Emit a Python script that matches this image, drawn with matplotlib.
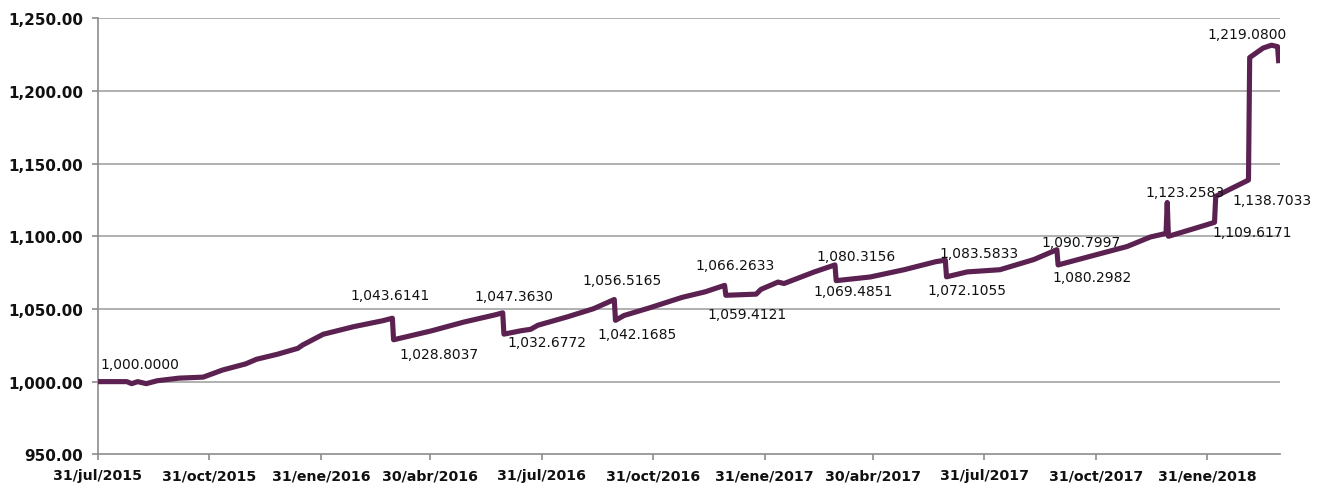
import matplotlib
matplotlib.use("Agg")
import matplotlib.pyplot as plt
import pandas as pd

# ---- data ----
dates = [
    "2015-07-31", "2015-08-24", "2015-08-28", "2015-09-02", "2015-09-09", "2015-09-18",
    "2015-10-06", "2015-10-26", "2015-11-11", "2015-11-30", "2015-12-09", "2015-12-26",
    "2016-01-12", "2016-01-16", "2016-02-02", "2016-02-27", "2016-03-22", "2016-03-30",
    "2016-03-31", "2016-05-01", "2016-05-28", "2016-06-23", "2016-06-29",
    "2016-06-30", "2016-07-14", "2016-07-22", "2016-07-28", "2016-08-21", "2016-09-12", "2016-09-29",
    "2016-09-30", "2016-10-07", "2016-10-29", "2016-11-24", "2016-12-13", "2016-12-29",
    "2016-12-30", "2017-01-24", "2017-01-28", "2017-02-11", "2017-02-16", "2017-03-13", "2017-03-30",
    "2017-03-31", "2017-04-28", "2017-05-26", "2017-06-21", "2017-06-29",
    "2017-06-30", "2017-07-17", "2017-08-13", "2017-09-10", "2017-09-29",
    "2017-09-30", "2017-10-21", "2017-11-26", "2017-12-15", "2017-12-28", "2017-12-29",
    "2017-12-30", "2018-01-11", "2018-01-30", "2018-02-06",
    "2018-02-07", "2018-02-19", "2018-03-06",
    "2018-03-07", "2018-03-18", "2018-03-25", "2018-03-30", "2018-03-31",
]
values = [
    1000.0000, 1000.0, 998.6, 1000.0, 998.6, 1000.6,
    1002.4, 1003.1, 1008.0, 1012.2, 1015.4, 1018.8,
    1022.9, 1025.2, 1032.6, 1037.8, 1041.9, 1043.6141,
    1028.8037, 1034.9, 1041.0, 1046.0, 1047.3630,
    1032.6772, 1035.0, 1036.0, 1038.8, 1044.5, 1050.2, 1056.5165,
    1042.1685, 1045.5, 1051.0, 1058.0, 1061.8, 1066.2633,
    1059.4121, 1060.2, 1063.5, 1068.5, 1067.5, 1075.5, 1080.3156,
    1069.4851, 1072.0, 1077.0, 1082.5, 1083.5833,
    1072.1055, 1075.5, 1077.0, 1084.0, 1090.7997,
    1080.2982, 1085.0, 1093.0, 1099.5, 1102.0, 1123.2583,
    1100.0, 1103.0, 1107.8, 1109.6171,
    1127.5, 1132.5, 1138.7033,
    1223.0, 1229.5, 1231.5, 1230.5, 1219.0800,
]

# labelled points (date) and label offsets in pixels (style)
label_dates = [
    "2015-07-31", "2016-03-30", "2016-03-31", "2016-06-29", "2016-06-30",
    "2016-09-29", "2016-09-30", "2016-12-29", "2016-12-30", "2017-03-30",
    "2017-03-31", "2017-06-29", "2017-06-30", "2017-09-29", "2017-09-30",
    "2017-12-29", "2018-02-06", "2018-03-06", "2018-03-31",
]
label_offsets = [
    (42, 18), (-2, 23), (45, -14), (11, 17), (43, -8),
    (8, 19), (22, -14), (10, 20), (21, -19), (21, 9),
    (17, -10), (34, 7), (20, -13), (24, 8), (34, -12),
    (18, 10), (38, -10), (24, -20), (-32, 29),
]

xtick_dates = ["2015-07-31", "2015-10-31", "2016-01-31", "2016-04-30", "2016-07-31",
               "2016-10-31", "2017-01-31", "2017-04-30", "2017-07-31", "2017-10-31",
               "2018-01-31"]
xtick_labels = ["31/jul/2015", "31/oct/2015", "31/ene/2016", "30/abr/2016", "31/jul/2016",
                "31/oct/2016", "31/ene/2017", "30/abr/2017", "31/jul/2017", "31/oct/2017",
                "31/ene/2018"]
yticks = [950, 1000, 1050, 1100, 1150, 1200, 1250]

# ---- drawing ----
W, H = 1330, 485
fig = plt.figure(figsize=(W / 100, H / 100), dpi=100)
left, right, top, bottom = 97.7, 1280, 19.3, 455.3
ax = fig.add_axes([left / W, (H - bottom) / H, (right - left) / W, (bottom - top) / H])

x = pd.to_datetime(dates)
line_color = "#5b2150"
grid_color = "#a3a3a3"

for yv in yticks[1:]:
    ax.axhline(yv, color=grid_color, lw=1.2, zorder=1)

ax.plot(x, values, color=line_color, lw=3.7, solid_joinstyle="round",
        solid_capstyle="butt", zorder=3)

val_by_date = dict(zip(dates, values))
for d, (dx, dy) in zip(label_dates, label_offsets):
    v = val_by_date[d]
    ax.annotate(f"{v:,.4f}", xy=(pd.Timestamp(d), v), xytext=(dx, dy),
                textcoords="offset pixels", ha="center", va="center",
                fontsize=10, color="#111111", zorder=4)

ax.set_xlim(pd.Timestamp("2015-07-31"), pd.Timestamp("2015-07-31") + pd.Timedelta(days=975))
ax.set_ylim(950, 1250)
ax.set_yticks(yticks)
ax.set_yticklabels([f"{v:,.2f}" for v in yticks])
ax.set_xticks(pd.to_datetime(xtick_dates))
ax.set_xticklabels(xtick_labels)

for s in ["top", "right"]:
    ax.spines[s].set_visible(False)
for s in ["left", "bottom"]:
    ax.spines[s].set_color("#8c8c8c")
    ax.spines[s].set_linewidth(1.2)

ax.tick_params(axis="y", length=4.5, width=1.2, color="#8c8c8c", pad=6,
               labelsize=11, labelcolor="#111111")
ax.tick_params(axis="x", length=4, width=1.2, color="#8c8c8c", pad=6,
               labelsize=10.2, labelcolor="#111111")
for lab in ax.get_yticklabels() + ax.get_xticklabels():
    lab.set_fontweight("bold")

fig.savefig("out.png", dpi=100)
